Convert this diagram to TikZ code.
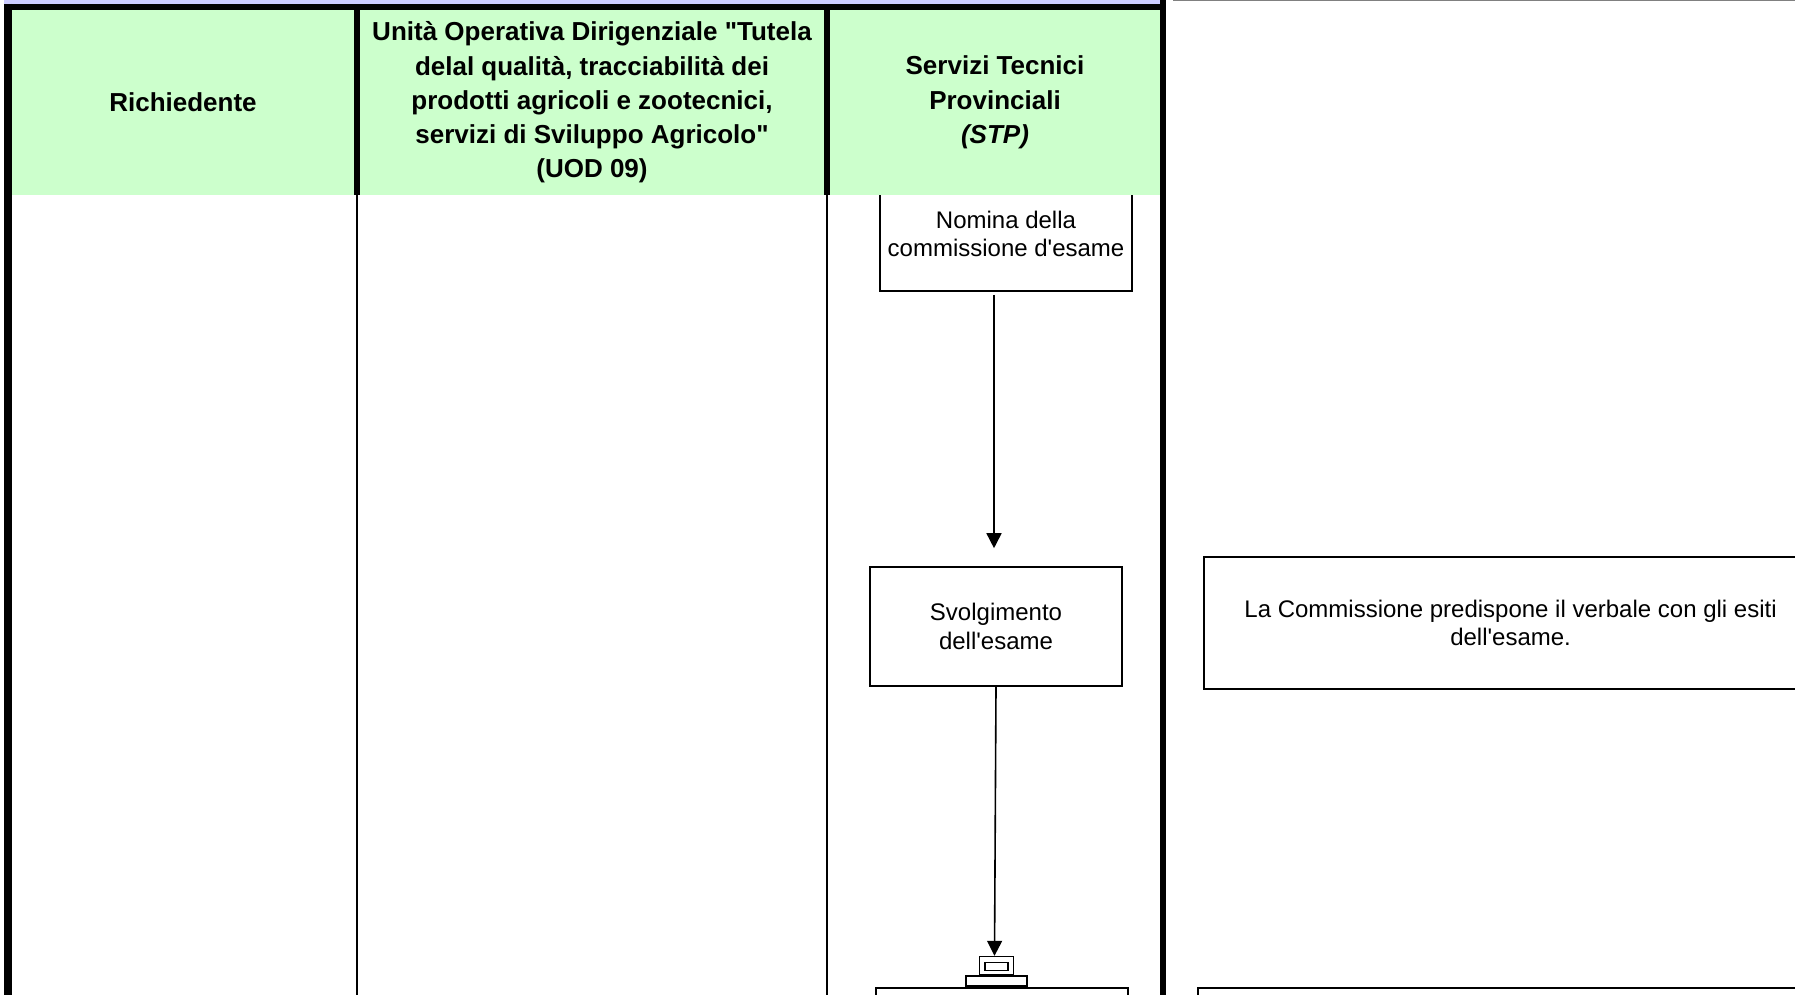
\documentclass[tikz,border=0pt]{standalone}
\usepackage{fontspec}
\setmainfont{Liberation Sans}
\usetikzlibrary{arrows.meta}
\definecolor{headgreen}{HTML}{CCFFCC}
\definecolor{bandblue}{HTML}{CCCCFF}
\newlength{\boxwidth}
\setlength{\boxwidth}{252pt}
\newlength{\laneheadheight}
\setlength{\laneheadheight}{185pt}
\newcommand\headfont{\fontsize{26}{34.3}\selectfont\bfseries}
\newcommand\boxfont{\fontsize{24}{28.6}\selectfont}
\newcommand\apo{\textquotesingle}
\newcommand\dq{\textquotedbl}

\begin{document}
\begin{tikzpicture}[x=1pt,y=-1pt]
  \tikzstyle{stepbox}=[draw, line width=1.6pt, align=center, font=\boxfont,
       minimum width=\boxwidth, inner sep=0pt]
  \tikzstyle{headcell}=[fill=headgreen, align=center, font=\headfont,
       minimum height=\laneheadheight, inner sep=0pt]
  \tikzstyle{flow}=[line width=1.6pt, -{Triangle[width=15pt,length=15pt]}]
  \useasboundingbox (0,0) rectangle (1795,995);

  % top band
  \draw[gray, line width=1pt] (1173,0.5) -- (1795,0.5);
  \fill[bandblue] (4,0) rectangle (1160,4);

  \node[stepbox, minimum height=114pt] (nomina) at (1006,234)
       {Nomina della\\commissione d\apo esame};

  % lane headers
  \node[headcell, minimum width=342pt] (richiedente) at (183,102.5) {Richiedente};
  \node[headcell, minimum width=464pt] (uod) at (592,102.5)
       {Unità Operativa Dirigenziale \dq Tutela\\delal qualità, tracciabilità dei\\
        prodotti agricoli e zootecnici,\\servizi di Sviluppo Agricolo\dq\\(UOD 09)};
  \node[headcell, minimum width=330pt] (stp) at (995,102.5)
       {Servizi Tecnici\\Provinciali\\\textit{(STP)}};

  \draw[line width=6pt] (4,7) -- (1166,7);
  \draw[line width=8pt] (8,4) -- (8,995);
  \draw[line width=6pt] (1163,0) -- (1163,995);
  \draw[line width=6pt] (357,10) -- (357,195);
  \draw[line width=6pt] (827,10) -- (827,195);
  \draw[line width=1.5pt] (357,195) -- (357,995);
  \draw[line width=1.5pt] (827,195) -- (827,995);

  \node[stepbox, minimum height=119pt] (svolg) at (996,626.5)
       {Svolgimento\\dell\apo esame};
  \node[stepbox, minimum width=613pt, minimum height=132pt] (verbale) at (1510.6,623)
       {La Commissione predispone il verbale con gli esiti\\dell\apo esame.};

  \node[stepbox, anchor=north, minimum height=100pt] (registro) at (1002,987) {};
  \node[stepbox, anchor=north west, minimum width=700pt, minimum height=100pt]
       (nota) at (1197,987) {};
  \node[draw, line width=1.6pt, minimum width=61pt, minimum height=10pt,
       inner sep=0pt, anchor=south] (base) at (996.5,987) {};
  \node[draw, line width=1.6pt, minimum width=34pt, minimum height=18pt,
       inner sep=0pt, anchor=south] (timbro) at (base.north) {};
  \node[draw, line width=1.6pt, minimum width=23pt, minimum height=8pt,
       inner sep=0pt] (tasto) at ([yshift=-1pt]timbro.center) {};

  \draw[flow, shorten <=3pt] ([xshift=-2pt]nomina.south -| svolg.north)
       -- ([xshift=-2pt,yshift=18pt]svolg.north);
  \draw[flow] (svolg.south) -- ([xshift=-2pt]timbro.north);
\end{tikzpicture}
\end{document}
